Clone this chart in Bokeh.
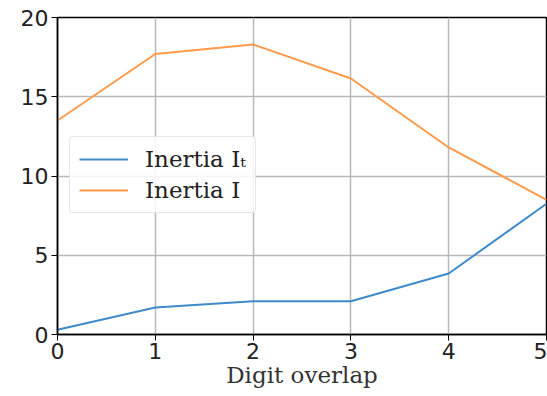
from bokeh.plotting import figure
from bokeh.models import Range1d, Legend, LegendItem, FixedTicker
from bokeh.embed import file_html
from bokeh.resources import INLINE

overlap = [0, 1, 2, 3, 4, 5]
inertia_t = [0.3, 1.7, 2.1, 2.1, 3.85, 8.25]
inertia = [13.5, 17.7, 18.3, 16.15, 11.8, 8.5]
x_ticks = [0, 1, 2, 3, 4, 5]
y_ticks = [0, 5, 10, 15, 20]

p = figure(width=547, height=396, output_backend="svg", toolbar_location=None,
           x_range=Range1d(0, 5), y_range=Range1d(0, 20),
           min_border_left=57, min_border_top=17, min_border_right=1, min_border_bottom=62)
p.background_fill_color = "white"
p.border_fill_color = "white"
p.outline_line_color = "black"
p.outline_line_width = 1.5

r1 = p.line(overlap, inertia_t, line_color="#3f8bc9", line_width=2)
r2 = p.line(overlap, inertia, line_color="#ff9a4a", line_width=2)

for ax in (p.xaxis[0], p.yaxis[0]):
    ax.major_label_text_font = "DejaVu Sans"
    ax.major_label_text_font_size = "22px"
    ax.major_label_text_color = "#222222"
    ax.axis_line_color = "black"
    ax.axis_line_width = 1.5
    ax.major_tick_out = 6
    ax.major_tick_in = 0
    ax.minor_tick_out = 0
    ax.minor_tick_in = 0
    ax.major_tick_line_color = "black"
p.xaxis.ticker = FixedTicker(ticks=x_ticks)
p.yaxis.ticker = FixedTicker(ticks=y_ticks)
p.xaxis.major_label_standoff = 2
p.yaxis.major_label_standoff = 3
p.xaxis.axis_label = "Digit overlap"
p.xaxis.axis_label_text_font = "DejaVu Serif"
p.xaxis.axis_label_text_font_style = "normal"
p.xaxis.axis_label_text_font_size = "23px"
p.xaxis.axis_label_text_color = "#333333"
p.xaxis.axis_label_standoff = 0

p.grid.grid_line_color = "#b8b8b8"
p.grid.grid_line_width = 1.5
p.xgrid.ticker = FixedTicker(ticks=x_ticks)
p.ygrid.ticker = FixedTicker(ticks=y_ticks)

legend = Legend(items=[LegendItem(label="Inertia I\u209c", renderers=[r1]),
                       LegendItem(label="Inertia I", renderers=[r2])],
                location=(12, 121))
legend.label_text_font = "DejaVu Serif"
legend.label_text_font_size = "23px"
legend.label_text_color = "#222222"
legend.glyph_width = 49
legend.label_standoff = 17
legend.spacing = 5
legend.padding = 9
legend.margin = 0
legend.border_line_color = "#d0d0d0"
legend.border_line_width = 1
legend.background_fill_alpha = 0.85
legend.border_radius = 4
p.add_layout(legend, "center")

open("out.html", "w").write(file_html(p, INLINE))
